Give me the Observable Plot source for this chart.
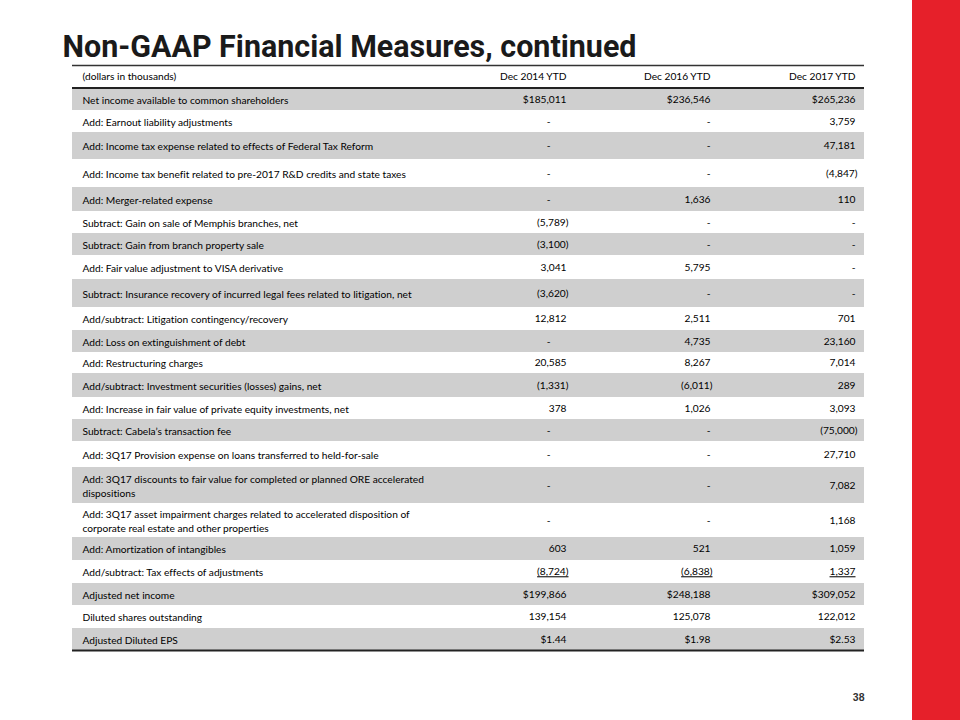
<!DOCTYPE html>
<html>
<head>
<meta charset="utf-8">
<script src="https://cdn.jsdelivr.net/npm/d3@7"></script>
<script src="https://cdn.jsdelivr.net/npm/@observablehq/plot@0.6"></script>
<style>
  html, body { margin: 0; padding: 0; background: #fff; }
  #chart svg { display: block; }
  #chart svg text { font-variant-ligatures: none; }
</style>
</head>
<body>
<div id="chart"></div>
<script>
// ---------------- DATA ----------------
const title = "Non-GAAP Financial Measures, continued";
const unitsLabel = "(dollars in thousands)";
const periods = ["Dec 2014 YTD", "Dec 2016 YTD", "Dec 2017 YTD"];
const pageNumber = "38";

const lineItems = [
  "Net income available to common shareholders",
  "Add: Earnout liability adjustments",
  "Add: Income tax expense related to effects of Federal Tax Reform",
  "Add: Income tax benefit related to pre-2017 R&D credits and state taxes",
  "Add: Merger-related expense",
  "Subtract: Gain on sale of Memphis branches, net",
  "Subtract: Gain from branch property sale",
  "Add: Fair value adjustment to VISA derivative",
  "Subtract: Insurance recovery of incurred legal fees related to litigation, net",
  "Add/subtract: Litigation contingency/recovery",
  "Add: Loss on extinguishment of debt",
  "Add: Restructuring charges",
  "Add/subtract: Investment securities (losses) gains, net",
  "Add: Increase in fair value of private equity investments, net",
  "Subtract: Cabela’s transaction fee",
  "Add: 3Q17 Provision expense on loans transferred to held-for-sale",
  "Add: 3Q17 discounts to fair value for completed or planned ORE accelerated\ndispositions",
  "Add: 3Q17 asset impairment charges related to accelerated disposition of\ncorporate real estate and other properties",
  "Add: Amortization of intangibles",
  "Add/subtract: Tax effects of adjustments",
  "Adjusted net income",
  "Diluted shares outstanding",
  "Adjusted Diluted EPS"
];

const dec2014 = ["$185,011","-","-","-","-","(5,789)","(3,100)","3,041","(3,620)","12,812","-","20,585","(1,331)","378","-","-","-","-","603","(8,724)","$199,866","139,154","$1.44"];
const dec2016 = ["$236,546","-","-","-","1,636","-","-","5,795","-","2,511","4,735","8,267","(6,011)","1,026","-","-","-","-","521","(6,838)","$248,188","125,078","$1.98"];
const dec2017 = ["$265,236","3,759","47,181","(4,847)","110","-","-","-","-","701","23,160","7,014","289","3,093","(75,000)","27,710","7,082","1,168","1,059","1,337","$309,052","122,012","$2.53"];

const underlinedItem = "Add/subtract: Tax effects of adjustments";

// ---------------- LAYOUT ----------------
const tableLeft = 72, tableRight = 864, labelX = 82;
const colRight = [566, 710, 855];
const dashInset = [16, 0, 0];
const headerTop = 65, headerBottom = 87.5;
const rowEdges = [88,110,132,159,187,211,233,255,279,307,330,352,373,397,419,441,467,503,537,560,583,605,628,650];
const bodyFont = "Lato, 'Open Sans', sans-serif";
const bodySize = 10.2;
const ink = "#000";
const shade = "#cfcfcf";
const red = "#e6202a";
const titleWidth = 574;

const series = [dec2014, dec2016, dec2017];

const rows = lineItems.map((label, i) => ({
  label,
  i,
  top: rowEdges[i],
  bottom: rowEdges[i + 1],
  mid: (rowEdges[i] + rowEdges[i + 1]) / 2
}));

const cells = [];
rows.forEach(r => {
  series.forEach((s, c) => {
    const t = s[r.i];
    let x = colRight[c];
    if (t === "-") x -= dashInset[c];
    else if (t.startsWith("(")) x += 2;
    cells.push({text: t, x, y: r.mid, under: r.label === underlinedItem});
  });
});

const headerCells = periods.map((p, c) => ({text: p, x: colRight[c], y: (headerTop + headerBottom) / 2}));

const chart = Plot.plot({
  width: 960,
  height: 720,
  margin: 0,
  style: {background: "#fff", overflow: "visible"},
  x: {type: "linear", domain: [0, 960], range: [0, 960], axis: null},
  y: {type: "linear", domain: [0, 720], range: [0, 720], axis: null},
  marks: [
    // red side band
    Plot.rect([0], {x1: 912, x2: 960, y1: 0, y2: 720, fill: red}),
    // shaded rows
    Plot.rect(rows.filter(r => r.i % 2 === 0), {x1: tableLeft, x2: tableRight, y1: "top", y2: "bottom", fill: shade}),
    // rules
    Plot.ruleY([headerTop], {x1: tableLeft, x2: tableRight, stroke: "#333", strokeWidth: 1.3}),
    Plot.ruleY([headerBottom], {x1: tableLeft, x2: tableRight, stroke: "#222", strokeWidth: 2.2}),
    Plot.ruleY([rowEdges[rowEdges.length - 1]], {x1: tableLeft, x2: tableRight, stroke: "#222", strokeWidth: 2.2}),
    // title
    Plot.text([title], {x: 62, y: 47, text: d => d, textAnchor: "start", fontFamily: "Roboto, 'Liberation Sans', sans-serif", fontWeight: "bold", fontSize: 31, fill: "#1a1a1a", ariaDescription: "title"}),
    // header
    Plot.text([unitsLabel], {x: labelX, y: (headerTop + headerBottom) / 2, text: d => d, textAnchor: "start", fontFamily: bodyFont, fontSize: bodySize, fill: ink}),
    Plot.text(headerCells, {x: "x", y: "y", text: "text", textAnchor: "end", fontFamily: bodyFont, fontSize: bodySize, fill: ink}),
    // labels
    Plot.text(rows, {x: labelX, y: "mid", text: "label", textAnchor: "start", lineHeight: 1.36, fontFamily: bodyFont, fontSize: bodySize, fill: ink}),
    // values
    Plot.text(cells.filter(d => !d.under), {x: "x", y: "y", text: "text", textAnchor: "end", fontFamily: bodyFont, fontSize: bodySize, fill: ink}),
    Plot.text(cells.filter(d => d.under), {x: "x", y: "y", text: "text", textAnchor: "end", fontFamily: bodyFont, fontSize: bodySize, fill: ink, ariaDescription: "underlined"}),
    // page number
    Plot.text([pageNumber], {x: tableRight, y: 697, text: d => d, textAnchor: "end", fontFamily: "'Liberation Sans', sans-serif", fontWeight: "bold", fontSize: 10.5, fill: "#333"})
  ]
});

d3.select(chart).selectAll('g[aria-description="underlined"] text').style("text-decoration", "underline");
d3.select(chart).selectAll('g[aria-description="title"] text')
  .attr("textLength", titleWidth)
  .attr("lengthAdjust", "spacingAndGlyphs");
document.getElementById("chart").appendChild(chart);
</script>
</body>
</html>
